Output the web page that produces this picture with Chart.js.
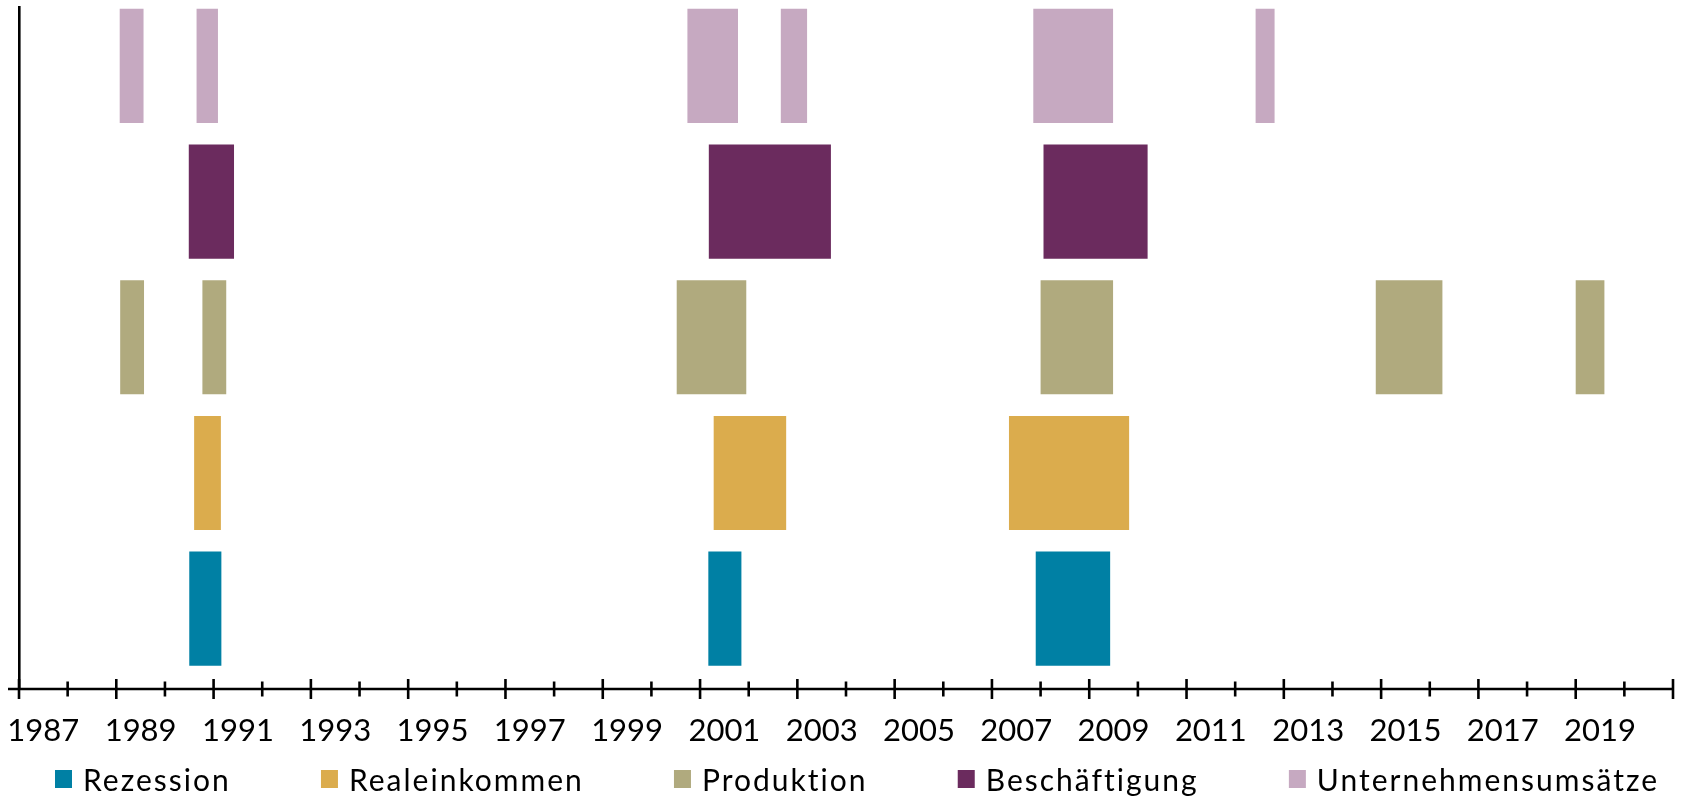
<!DOCTYPE html>
<html>
<head>
<meta charset="utf-8">
<script src="https://cdn.jsdelivr.net/npm/chart.js@4.4.1/dist/chart.umd.min.js"></script>
<style>
  html, body { margin: 0; padding: 0; background: #fff; }
  .container { width: 1683px; height: 800px; position: relative; }
</style>
</head>
<body>
<div class="container"><canvas id="graphCanvas"></canvas></div>
<script>
// rows, top to bottom
const categories = ['Unternehmensumsätze', 'Beschäftigung', 'Produktion', 'Realeinkommen', 'Rezession'];

// phases as [start, end] in decimal years
const rezession = [[1990.50, 1991.16], [2001.17, 2001.85], [2007.90, 2009.43]];
const realeinkommen = [[1990.60, 1991.15], [2001.28, 2002.77], [2007.35, 2009.82]];
const produktion = [[1989.08, 1989.57], [1990.77, 1991.26], [2000.52, 2001.95], [2008.00, 2009.49], [2014.89, 2016.26], [2019.00, 2019.59]];
const beschaeftigung = [[1990.49, 1991.42], [2001.18, 2003.69], [2008.06, 2010.20]];
const umsaetze = [[1989.07, 1989.56], [1990.65, 1991.09], [2000.74, 2001.78], [2002.66, 2003.20], [2007.85, 2009.49], [2012.42, 2012.81]];

const tickYears = [1987, 1989, 1991, 1993, 1995, 1997, 1999, 2001, 2003, 2005, 2007, 2009, 2011, 2013, 2015, 2017, 2019];
const firstYear = 1987
const lastYear = 2021

const series = [
    { name: 'Rezession', data: rezession, color: '#0080A4' },
    { name: 'Realeinkommen', data: realeinkommen, color: '#DBAC4D' },
    { name: 'Produktion', data: produktion, color: '#B0AA7E' },
    { name: 'Beschäftigung', data: beschaeftigung, color: '#6B2B5E' },
    { name: 'Unternehmensumsätze', data: umsaetze, color: '#C6A9C1' }
];

const FONT = 'Lato, "Open Sans", sans-serif';

// x axis line with year ticks crossing it
const axisPlugin = {
    id: 'yearAxis',
    afterDatasetsDraw(chart) {
        const ctx = chart.ctx;
        const xs = chart.scales.x;
        const y0 = chart.chartArea.bottom;
        ctx.save();
        ctx.strokeStyle = '#000';
        ctx.lineWidth = 2.6;
        ctx.beginPath();
        ctx.moveTo(chart.chartArea.left - 11, y0);
        ctx.lineTo(chart.chartArea.right, y0);
        ctx.stroke();
        for (let yr = firstYear; yr <= lastYear; yr++) {
            const px = xs.getPixelForValue(yr);
            const len = (yr % 2 === 1) ? 10 : 7.5;
            ctx.beginPath();
            ctx.moveTo(px, y0 - len);
            ctx.lineTo(px, y0 + len);
            ctx.stroke();
        }
        ctx.restore();
    }
};

// legend row spread under the axis
const legendPlugin = {
    id: 'bottomLegend',
    afterDraw(chart) {
        const ctx = chart.ctx;
        ctx.save();
        ctx.font = '30px ' + FONT;
        ctx.letterSpacing = '2px';
        ctx.textBaseline = 'alphabetic';
        const boxW = 17, boxH = 18, gapText = 11;
        const widths = chart.data.datasets.map(ds => boxW + gapText + ctx.measureText(ds.label).width);
        const span = 1604;
        const gap = (span - widths.reduce((a, b) => a + b, 0)) / (widths.length - 1);
        let x = 55;
        chart.data.datasets.forEach((ds, i) => {
            ctx.fillStyle = ds.backgroundColor;
            ctx.fillRect(x, 770, boxW, boxH);
            ctx.fillStyle = '#000';
            ctx.fillText(ds.label, x + boxW + gapText, 791);
            x += widths[i] + gap;
        });
        ctx.restore();
    }
};

function showGraph() {
    const datasets = series.map(s => ({
        label: s.name,
        data: s.data.map(iv => ({ x: iv, y: categories.indexOf(s.name) })),
        backgroundColor: s.color,
        borderWidth: 0
    }));

    new Chart(document.getElementById('graphCanvas'), {
        type: 'bar',
        data: { datasets: datasets },
        options: {
            indexAxis: 'y',
            responsive: true,
            maintainAspectRatio: false,
            animation: false,
            grouped: false,
            barPercentage: 0.841,
            categoryPercentage: 1,
            layout: { padding: { left: 19, right: 10, top: 7, bottom: 51 } },
            plugins: { legend: { display: false }, tooltip: { enabled: false } },
            scales: {
                x: {
                    type: 'linear',
                    min: firstYear,
                    max: lastYear,
                    afterBuildTicks: scale => { scale.ticks = tickYears.map(y => ({ value: y + 0.5 })); },
                    afterFit: scale => { scale.height = 60; scale.paddingLeft = 0; scale.paddingRight = 0; },
                    grid: { display: false, drawTicks: false },
                    border: { display: false },
                    ticks: {
                        autoSkip: false,
                        maxRotation: 0,
                        padding: 23,
                        color: '#000',
                        font: { family: FONT, size: 31 },
                        callback: (v, i) => String(tickYears[i])
                    }
                },
                y: {
                    type: 'linear',
                    reverse: true,
                    offset: false,
                    min: -0.434,
                    max: 4.592,
                    afterBuildTicks: scale => { scale.ticks = categories.map((c, i) => ({ value: i })); },
                    afterFit: scale => { scale.width = 0; },
                    grid: { display: false, drawTicks: false },
                    border: { display: true, color: '#000', width: 2.6 },
                    ticks: { display: false }
                }
            }
        },
        plugins: [axisPlugin, legendPlugin]
    });
}

showGraph();
</script>
</body>
</html>
